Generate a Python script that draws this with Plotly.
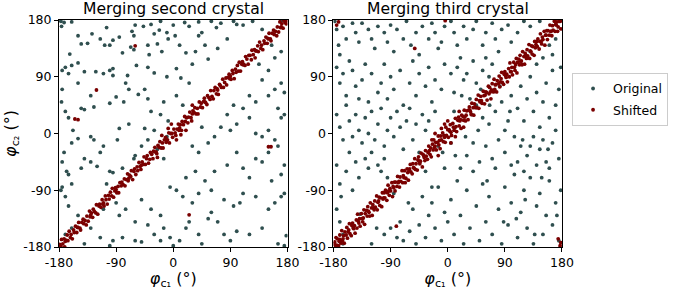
import plotly.graph_objects as go
from plotly.subplots import make_subplots

TITLES = ["Merging second crystal", "Merging third crystal"]
TICK_VALUES = [-180, -90, 0, 90, 180]
TICK_LABELS = ["-180", "-90", "0", "90", "180"]
SERIES_NAMES = ["Original", "Shifted"]

# ---- Panel 1 : original (scattered) points (phi_c1, phi_c2) in degrees
P1_ORIGINAL = [
    (-177,178),(-172,176),(-160,177),(-176,170),(-150,155),(-128,158),(-115,150),(-105,168),(-100,140),(-85,153),
    (-65,162),(-62,155),(-60,172),(-47,170),(-40,140),(-35,173),(-30,158),(-22,164),(-20,178),(-10,160),
    (0,172),(3,155),(-8,150),(18,176),(25,170),(40,177),(45,160),(60,178),(68,168),(75,175),
    (95,178),(100,173),(110,172),(125,178),(140,165),(170,178),(-62,133),(-67,137),(-80,128),(-95,148),
    (-145,142),(-135,143),(-108,140),(-38,125),(-25,142),(-18,130),(10,140),(20,128),(35,130),(50,140),
    (40,155),(55,118),(30,110),(70,135),(85,150),(-163,126),(-170,105),(-175,100),(-165,95),(-160,108),
    (-150,112),(-140,98),(-150,80),(-122,98),(-110,95),(-100,100),(-95,103),(-95,92),(-75,80),(-72,92),
    (-58,108),(-40,105),(-30,96),(-10,90),(5,103),(12,88),(25,80),(-45,70),(-55,62),(-70,70),
    (-78,50),(-90,58),(-100,48),(-130,60),(-140,38),(-145,40),(-125,42),(-175,70),(-176,50),(-170,35),
    (-165,25),(-158,5),(-150,-8),(-160,-15),(-172,-30),(-175,-45),(-168,-60),(-175,-85),(-177,-90),(-160,-80),
    (-165,-65),(-140,-40),(-145,-55),(-120,-52),(-115,-30),(-125,-10),(-130,-5),(-110,-20),(-88,-10),(-85,8),
    (-70,15),(-60,-35),(-62,-40),(-80,-55),(-95,-62),(-100,-60),(-105,-80),(-130,-45),(-165,-115),(-170,-100),
    (-150,-130),(-110,-120),(-90,-110),(-85,-130),(-75,-120),(-60,-140),(-50,-105),(-35,-120),(-20,-130),(-40,-145),
    (-95,-170),(-80,-165),(-60,-170),(-50,-172),(-30,-160),(-15,-150),(-20,-170),(-5,-165),(0,-178),(-100,-178),
    (-115,-165),(-140,-175),(-170,-160),(-160,-150),(-130,-150),(10,-170),(20,-150),(25,-140),(40,-160),(45,-175),
    (55,-135),(60,-125),(70,-140),(80,-160),(90,-170),(100,-155),(120,-160),(140,-150),(165,-175),(175,-178),
    (178,-162),(150,-120),(160,-110),(170,-100),(175,-95),(130,-100),(110,-95),(105,-110),(95,-115),(80,-105),
    (60,-90),(40,-95),(30,-110),(15,-100),(5,-90),(-5,-85),(20,-70),(35,-60),(50,-75),(65,-60),
    (85,-50),(100,-30),(110,-55),(120,-70),(130,-40),(140,-45),(150,-30),(165,-20),(175,-50),(170,-65),
    (155,-75),(30,-20),(40,-30),(55,-15),(45,10),(65,-5),(75,10),(90,5),(100,15),(120,25),
    (130,0),(140,-5),(150,5),(160,-10),(170,25),(175,30),(165,40),(150,60),(160,70),(170,80),
    (175,65),(130,50),(120,60),(110,40),(95,45),(85,30),(135,110),(140,85),(150,100),(160,120),
    (170,130),(155,140),(-45,8),(-40,-10),(-30,5),(-25,-25),(-15,-40),(-10,-5),(-50,-20),(-20,30),
    (-8,20),(-35,35),(-15,50),(5,60),(15,45),(-40,55),
]

# ---- Panel 1 : shifted points
P1_SHIFTED = [
    (-179,-176),(-177,-179),(-176,-168),(-174,-175),(-172,-167),(-171,-180),(-169,-169),(-167,-161),(-166,-170),(-164,-155),
    (-162,-165),(-161,-160),(-159,-167),(-157,-153),(-156,-157),(-154,-147),(-152,-157),(-151,-149),(-149,-141),(-147,-150),
    (-146,-153),(-144,-141),(-142,-136),(-141,-143),(-139,-138),(-137,-145),(-136,-131),(-134,-139),(-132,-123),(-131,-132),
    (-129,-126),(-127,-133),(-126,-120),(-124,-124),(-122,-126),(-121,-113),(-119,-128),(-117,-115),(-116,-112),(-114,-117),
    (-112,-105),(-111,-112),(-109,-115),(-107,-99),(-106,-105),(-104,-112),(-102,-98),(-101,-104),(-99,-93),(-97,-99),
    (-96,-87),(-94,-101),(-92,-91),(-91,-86),(-89,-94),(-87,-84),(-86,-94),(-84,-78),(-82,-83),(-81,-77),
    (-79,-81),(-77,-72),(-76,-83),(-74,-73),(-72,-64),(-71,-75),(-69,-66),(-67,-68),(-66,-59),(-64,-73),
    (-62,-60),(-61,-56),(-59,-65),(-57,-53),(-56,-59),(-54,-46),(-52,-52),(-51,-57),(-49,-45),(-47,-49),
    (-46,-37),(-44,-49),(-42,-40),(-41,-35),(-39,-47),(-37,-41),(-36,-30),(-34,-33),(-32,-40),(-31,-28),
    (-29,-22),(-27,-29),(-26,-32),(-24,-19),(-22,-22),(-21,-13),(-19,-23),(-17,-15),(-16,-23),(-14,-10),
    (-12,-6),(-11,-14),(-9,-10),(-7,1),(-6,-15),(-4,0),(-2,0),(-1,-6),(1,7),(3,1),
    (4,-3),(6,7),(8,15),(9,5),(11,14),(13,5),(14,19),(16,14),(18,27),(19,19),
    (21,25),(23,17),(24,26),(26,34),(28,25),(29,20),(31,36),(33,33),(34,41),(36,31),
    (38,40),(39,31),(41,50),(43,42),(44,48),(46,41),(48,51),(49,56),(51,49),(53,46),
    (54,60),(56,57),(58,54),(59,68),(61,59),(63,55),(64,68),(66,73),(68,63),(69,71),
    (71,62),(73,78),(74,76),(76,73),(78,86),(79,73),(81,81),(83,88),(84,77),(86,89),
    (88,94),(89,87),(91,86),(93,100),(94,95),(96,87),(98,102),(99,97),(101,108),(103,99),
    (104,113),(106,99),(108,110),(109,114),(111,110),(113,108),(114,122),(116,118),(118,110),(119,124),
    (121,124),(123,117),(124,132),(126,125),(128,133),(129,120),(131,131),(133,139),(134,130),(136,145),
    (138,135),(139,140),(141,133),(143,147),(144,143),(146,153),(148,143),(149,151),(151,159),(153,150),
    (154,147),(156,159),(158,164),(159,157),(161,162),(163,155),(164,169),(166,161),(168,177),(169,168),
    (171,174),(173,167),(174,180),(176,176),(178,174),(179,179),
    (-170,-171),(-150,-149),(-130,-129),(-110,-110),(-90,-89),(-70,-71),(-50,-50),(-30,-29),(-10,-11),(10,9),
    (30,31),(50,50),(70,69),(90,91),(110,109),(130,131),(150,150),(170,169),
    (-8,8),(5,-10),(-18,-3),(12,-2),(-3,15),(20,5),(-25,-38),(30,45),
    (-155,23),(-150,22),(-121,69),(150,-21),(154,-21),(25,-129),(-60,139),
]

# ---- Panel 2 : original (scattered) points
P2_ORIGINAL = [
    (-178,178),(-175,165),(-172,140),(-170,125),(-165,170),(-160,150),(-150,175),(-145,160),(-140,145),(-135,175),
    (-125,165),(-120,150),(-115,135),(-110,170),(-100,160),(-95,145),(-90,172),(-85,130),(-80,165),(-70,150),
    (-65,178),(-58,140),(-50,160),(-45,125),(-40,170),(-30,150),(-25,175),(-20,160),(-15,135),(-10,145),
    (-5,170),(5,178),(10,160),(15,140),(20,120),(25,170),(30,150),(40,165),(45,178),(55,140),
    (60,160),(70,175),(75,150),(80,130),(85,165),(95,172),(100,145),(110,160),(120,178),(130,170),
    (145,178),(-175,105),(-170,80),(-165,95),(-160,60),(-155,115),(-150,100),(-145,75),(-140,55),(-135,85),
    (-130,110),(-125,50),(-120,95),(-110,65),(-105,80),(-100,110),(-95,55),(-90,90),(-85,70),(-75,100),
    (-70,45),(-60,80),(-55,115),(-50,60),(-45,95),(-35,75),(-30,105),(-25,50),(-20,85),(-10,70),
    (-5,110),(5,95),(10,65),(15,105),(25,85),(30,95),(40,115),(45,80),(55,100),(60,120),
    (65,90),(70,110),(-175,30),(-170,10),(-165,-10),(-160,45),(-155,20),(-150,-5),(-145,30),(-140,5),
    (-135,-15),(-130,25),(-125,0),(-120,35),(-115,-10),(-110,15),(-105,40),(-100,-20),(-95,5),(-90,25),
    (-85,-5),(-80,35),(-75,10),(-70,-25),(-65,20),(-60,40),(-55,-10),(-50,15),(-45,-30),(-40,30),
    (-35,5),(-30,20),(-20,35),(-15,-20),(-8,-30),(5,-15),(10,35),(-175,-50),(-170,-80),(-168,-100),
    (-160,-60),(-155,-30),(-150,-90),(-145,-45),(-140,-70),(-130,-40),(-125,-55),(-120,-30),(-110,-50),(-105,-60),
    (-100,-40),(-95,-70),(-175,-120),(-170,-140),(-165,-160),(-120,-175),(-100,-160),(-90,-150),(-80,-165),(-75,-140),
    (-70,-170),(-60,-155),(-55,-120),(-50,-175),(-45,-145),(-40,-100),(-35,-165),(-30,-130),(-25,-110),(-20,-150),
    (-15,-85),(-10,-170),(-5,-125),(0,-140),(5,-105),(10,-160),(15,-75),(20,-130),(25,-175),(30,-90),
    (35,-150),(40,-60),(45,-115),(50,-170),(55,-80),(60,-140),(65,-100),(70,-160),(75,-55),(80,-120),
    (85,-175),(90,-85),(95,-145),(100,-110),(105,-65),(110,-165),(115,-125),(120,-90),(125,-150),(130,-70),
    (135,-175),(140,-115),(145,-95),(150,-160),(155,-130),(160,-75),(165,-145),(170,-110),(175,-170),(178,-90),
    (100,60),(110,40),(115,75),(120,20),(125,55),(130,90),(135,35),(140,65),(145,10),(150,50),
    (155,80),(160,25),(165,100),(170,45),(175,70),(178,105),(105,-5),(115,-20),(125,-35),(135,-5),
    (145,-25),(155,-45),(165,-15),(175,-40),(110,-45),(120,-60),(130,-20),(140,-50),(150,-10),(160,-55),
    (170,5),(90,-30),(80,-10),(70,-40),(60,-20),(50,-45),(40,-15),(30,-35),(20,-55),(65,15),
    (75,35),(85,50),(95,20),(55,25),(45,45),(35,55),(100,-50),(90,5),(150,120),(160,140),
    (170,150),(165,125),(140,110),(130,130),(-165,-175),(-138,-128),(-112,-150),(-85,-95),(-62,-110),(-35,-60),
    (-25,-85),(-5,-55),(12,-35),(28,-5),(48,5),(62,-75),(88,-140),(108,-135),(122,-105),(137,-160),
    (148,-70),(158,-25),(172,-130),(118,-10),(98,35),(82,75),(66,45),(52,70),(38,30),(22,60),
]

# ---- Panel 2 : shifted points
P2_SHIFTED = [
    (-179,-175),(-178,-172),(-176,-165),(-175,-177),(-174,-167),(-172,-178),(-171,-171),(-170,-161),(-168,-174),(-167,-154),
    (-166,-170),(-164,-162),(-163,-174),(-162,-156),(-160,-161),(-159,-149),(-158,-166),(-156,-153),(-155,-143),(-154,-159),
    (-152,-162),(-151,-146),(-150,-142),(-148,-151),(-147,-146),(-146,-158),(-144,-137),(-143,-150),(-142,-128),(-140,-142),
    (-139,-135),(-138,-147),(-136,-127),(-135,-135),(-134,-140),(-132,-121),(-131,-144),(-130,-127),(-128,-122),(-127,-131),
    (-126,-116),(-124,-125),(-123,-131),(-122,-110),(-120,-118),(-119,-130),(-118,-113),(-116,-121),(-115,-107),(-114,-117),
    (-112,-99),(-111,-121),(-110,-109),(-108,-101),(-107,-114),(-106,-102),(-104,-116),(-103,-94),(-102,-104),(-100,-94),
    (-99,-102),(-98,-90),(-96,-106),(-95,-94),(-94,-82),(-92,-98),(-91,-87),(-90,-91),(-88,-78),(-87,-100),
    (-86,-84),(-84,-77),(-83,-91),(-82,-77),(-80,-84),(-79,-68),(-78,-78),(-76,-85),(-75,-69),(-74,-76),
    (-72,-59),(-71,-78),(-70,-67),(-68,-59),(-67,-78),(-66,-71),(-64,-56),(-63,-62),(-62,-74),(-60,-56),
    (-59,-49),(-58,-61),(-56,-64),(-55,-48),(-54,-54),(-52,-40),(-51,-57),(-50,-48),(-48,-58),(-47,-42),
    (-46,-37),(-44,-48),(-43,-44),(-42,-31),(-40,-53),(-39,-33),(-38,-35),(-36,-43),(-35,-27),(-34,-36),
    (-32,-41),(-31,-30),(-30,-20),(-28,-33),(-27,-23),(-26,-37),(-24,-17),(-23,-26),(-22,-10),(-20,-20),
    (-19,-14),(-18,-26),(-16,-14),(-15,-4),(-14,-18),(-12,-24),(-11,-4),(-10,-10),(-8,1),(-7,-13),
    (-6,-3),(-4,-14),(-3,10),(-2,-3),(0,6),(1,-6),(2,6),(4,14),(5,2),(6,-3),
    (8,16),(9,10),(10,5),(12,24),(13,11),(14,3),(16,21),(17,26),(18,12),(20,22),
    (21,8),(22,29),(24,27),(25,21),(26,37),(28,20),(29,29),(30,36),(32,22),(33,37),
    (34,42),(36,34),(37,30),(38,48),(40,41),(41,29),(42,47),(44,41),(45,54),(46,41),
    (48,61),(49,40),(50,52),(52,59),(53,52),(54,48),(56,67),(57,60),(58,47),(60,66),
    (61,65),(62,53),(64,75),(65,63),(66,73),(68,55),(69,69),(70,79),(72,66),(73,86),
    (74,70),(76,78),(77,66),(78,84),(80,79),(81,91),(82,74),(84,87),(85,97),(86,81),
    (88,78),(89,94),(90,98),(92,89),(93,94),(94,82),(96,103),(97,90),(98,112),(100,98),
    (101,105),(102,93),(104,113),(105,105),(106,100),(108,119),(109,96),(110,113),(112,118),(113,109),
    (114,124),(116,115),(117,109),(118,130),(120,122),(121,110),(122,127),(124,119),(125,133),(126,123),
    (128,141),(129,119),(130,131),(132,139),(133,126),(134,138),(136,124),(137,146),(138,136),(140,146),
    (141,138),(142,150),(144,134),(145,146),(146,158),(148,142),(149,153),(150,149),(152,162),(153,140),
    (154,156),(156,163),(157,149),(158,163),(160,156),(161,172),(162,162),(164,155),(165,171),(166,164),
    (168,178),(169,162),(170,173),(172,177),(173,162),(174,169),(176,178),(177,178),(178,166),(179,179),
    (-177,-178),(-170,-168),(-165,-167),(-157,-156),(-149,-150),(-141,-139),(-133,-134),(-125,-123),(-117,-118),(-109,-107),
    (-101,-102),(-93,-91),(-85,-86),(-77,-76),(-69,-70),(-61,-59),(-53,-55),(-45,-44),(-37,-38),(-29,-27),
    (-21,-22),(-13,-11),(-5,-6),(3,4),(11,9),(19,20),(27,26),(35,37),(43,42),(51,50),
    (59,61),(67,66),(75,77),(83,82),(91,92),(99,98),(107,109),(115,114),(123,124),(131,130),
    (139,141),(147,146),(155,156),(163,162),(171,172),
    (-10,8),(-5,15),(5,-15),(12,-5),(-20,0),(0,20),(-25,-10),(18,35),(-15,-35),(25,10),
    (-172,177),(-175,172),(-52,135),(-81,-147),(178,-173),(174,-167),(177,-178),(-4,179),
]

PANELS = [(P1_ORIGINAL, P1_SHIFTED), (P2_ORIGINAL, P2_SHIFTED)]
COLORS = {"Original": "#2f4f4f", "Shifted": "#7a0000"}
FONT = "DejaVu Sans"

fig = make_subplots(rows=1, cols=2, horizontal_spacing=0.0914, subplot_titles=TITLES)

for i, (orig, shifted) in enumerate(PANELS):
    col = i + 1
    for name, pts in zip(SERIES_NAMES, (orig, shifted)):
        fig.add_trace(
            go.Scatter(
                x=[p[0] for p in pts],
                y=[p[1] for p in pts],
                mode="markers",
                name=name,
                legendgroup=name,
                showlegend=(i == 1),
                marker=dict(size=3.8, color=COLORS[name], line=dict(width=0)),
            ),
            row=1, col=col,
        )

axis_common = dict(
    range=[-180, 180],
    tickvals=TICK_VALUES,
    ticktext=TICK_LABELS,
    showgrid=False,
    zeroline=False,
    showline=True,
    linecolor="black",
    linewidth=1,
    mirror=True,
    ticks="outside",
    ticklen=4,
    tickwidth=1,
    tickcolor="black",
    automargin=False,
    tickfont=dict(size=12.5, color="black", family=FONT),
)

xlabel = "<i>φ</i><sub>c₁</sub> (°)"
ylabel = "<i>φ</i><sub>c₂</sub> (°)"
for c in (1, 2):
    fig.update_xaxes(axis_common, row=1, col=c,
                     title=dict(text=xlabel, font=dict(size=16, color="black", family=FONT), standoff=2))
    fig.update_yaxes(axis_common, row=1, col=c)
fig.update_yaxes(title=dict(text=ylabel, font=dict(size=16, color="black", family=FONT), standoff=2), row=1, col=1)

for ann in fig.layout.annotations:
    ann.font = dict(size=15.6, color="black", family=FONT)
    ann.yshift = 0

fig.update_layout(
    width=677, height=290,
    margin=dict(l=59, r=115, t=20, b=43, autoexpand=False),
    paper_bgcolor="white",
    plot_bgcolor="white",
    font=dict(family=FONT, color="black"),
    legend=dict(
        x=1.02, y=0.767, xanchor="left", yanchor="top",
        bordercolor="#cccccc", borderwidth=1,
        font=dict(size=12.5, color="black", family=FONT),
        itemsizing="trace",
        tracegroupgap=2,
    ),
)

fig.write_html(
    "out.html",
    config={"displayModeBar": False},
    post_script="document.body.style.margin='0';document.body.style.overflow='hidden';",
)
